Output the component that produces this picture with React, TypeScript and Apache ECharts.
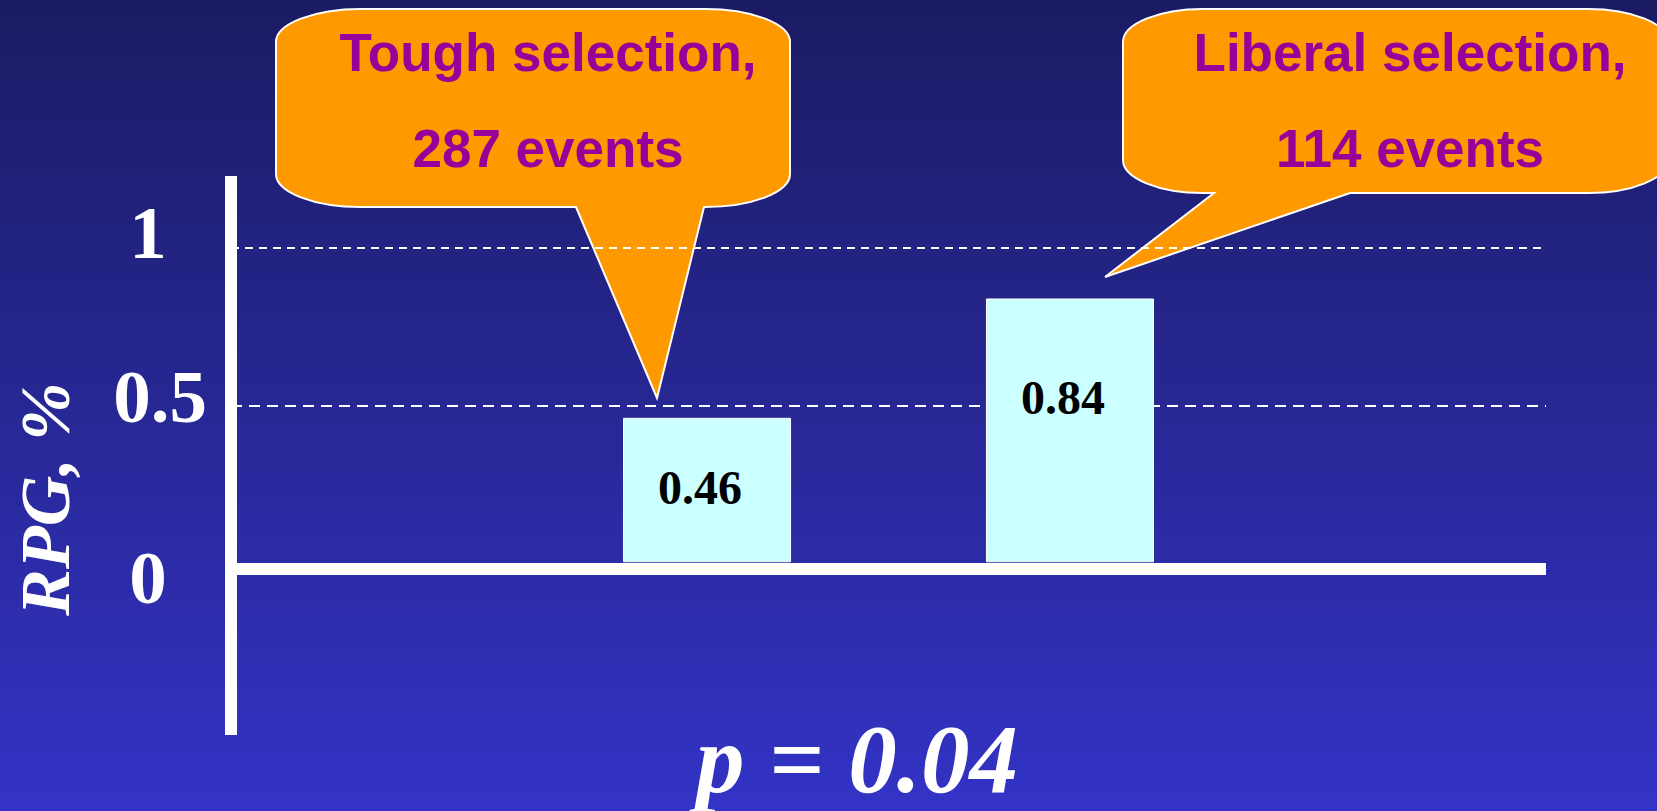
import React, { useEffect, useRef } from "react";
import * as echarts from "echarts";

// ---- data ----
const groups = ["Tough selection", "Liberal selection"];
const eventCounts = [287, 114];
const rpgValues = [0.46, 0.84];
const tickValues = [0, 0.5, 1];
const tickLabels = ["0", "0.5", "1"];
const gridValues = [1, 0.5];
const pValueText = "p = 0.04";
const yTitle = "RPG, %";

// ---- styles / layout ----
const SERIF = '"Liberation Serif", "Times New Roman", serif';
const SANS = '"Liberation Sans", Arial, sans-serif';
const Y_MIN = -0.55;
const Y_MAX = 1.23;
const Y2_MIN = -0.53; // helper axis that puts the drawn baseline slightly below the bars' zero
const Y2_MAX = 1.25;
const tickLabelPad = [
  [31, 0, 0, 0],
  [0, 0, 18, 24],
  [0, 0, 32, 0],
];
const barLabelOffsets = [
  [-7, -3],
  [-7, -33],
];
const gridDash = [
  [8, 6],
  [11, 7],
];

type Callout = {
  L: number; T: number; R: number; B: number; rx: number; ry: number;
  tailA: number; tailB: number; tipX: number; tipY: number; textX: number;
};
const callouts: Callout[] = [
  { L: 276, T: 9, R: 790, B: 207, rx: 85, ry: 33, tailA: 576, tailB: 704, tipX: 657, tipY: 398, textX: 548 },
  { L: 1123, T: 9, R: 1668, B: 193, rx: 80, ry: 33, tailA: 1214, tailB: 1350, tipX: 1105, tipY: 277, textX: 1410 },
];

function calloutPath(c: Callout) {
  const k = 0.5523;
  const { L, T, R, B, rx, ry } = c;
  return [
    `M${L + rx},${T}`,
    `L${R - rx},${T}`,
    `C${R - rx + k * rx},${T} ${R},${T + ry - k * ry} ${R},${T + ry}`,
    `L${R},${B - ry}`,
    `C${R},${B - ry + k * ry} ${R - rx + k * rx},${B} ${R - rx},${B}`,
    `L${c.tailB},${B}`,
    `L${c.tipX},${c.tipY}`,
    `L${c.tailA},${B}`,
    `L${L + rx},${B}`,
    `C${L + rx - k * rx},${B} ${L},${B - ry + k * ry} ${L},${B - ry}`,
    `L${L},${T + ry}`,
    `C${L},${T + ry - k * ry} ${L + rx - k * rx},${T} ${L + rx},${T}`,
    "Z",
  ].join(" ");
}

let registered = false;
function registerShapes() {
  if (registered) return;
  callouts.forEach((c, i) => {
    echarts.graphic.registerShape(
      "callout" + i,
      echarts.graphic.extendPath(calloutPath(c), {}) as any
    );
  });
  registered = true;
}

export default function App() {
  const ref = useRef<HTMLDivElement>(null);

  useEffect(() => {
    if (!ref.current) return;
    registerShapes();
    const chart = echarts.init(ref.current, undefined, { renderer: "svg" });

    const rich: Record<string, any> = {};
    tickLabels.forEach((_, i) => {
      rich["t" + i] = {
        fontFamily: SERIF,
        fontWeight: "bold",
        fontSize: 75,
        lineHeight: 80,
        color: "#ffffff",
        padding: tickLabelPad[i],
      };
    });

    const graphicEls: any[] = [];
    callouts.forEach((c, i) => {
      graphicEls.push({
        type: "callout" + i,
        x: 0,
        y: 0,
        z: 0,
        silent: true,
        style: { fill: "#FF9900", stroke: "#ffffff", lineWidth: 2 },
      });
      graphicEls.push({
        type: "text",
        x: c.textX,
        y: 100,
        z: 10,
        silent: true,
        style: {
          text: `${groups[i]},\n${eventCounts[i]} events`,
          fontFamily: SANS,
          fontWeight: "bold",
          fontSize: 53,
          lineHeight: 96,
          fill: "#990099",
          align: "center",
          verticalAlign: "middle",
        },
      });
    });
    graphicEls.push({
      type: "text",
      x: 45,
      y: 499,
      z: 10,
      rotation: Math.PI / 2,
      silent: true,
      style: {
        text: yTitle,
        fontFamily: SERIF,
        fontWeight: "bold",
        fontStyle: "italic",
        fontSize: 70,
        fill: "#ffffff",
        align: "center",
        verticalAlign: "middle",
      },
    });
    graphicEls.push({
      type: "text",
      x: 857,
      y: 759,
      z: 10,
      silent: true,
      style: {
        text: pValueText,
        fontFamily: SERIF,
        fontWeight: "bold",
        fontStyle: "italic",
        fontSize: 97,
        fill: "#ffffff",
        align: "center",
        verticalAlign: "middle",
      },
    });

    const option: any = {
      animation: false,
      backgroundColor: "transparent",
      grid: {
        left: 231,
        right: 111,
        top: 176,
        bottom: 76,
        containLabel: false,
        outerBoundsMode: "none",
      },
      xAxis: {
        type: "category",
        data: [""],
        axisLine: {
          show: true,
          onZero: true,
          onZeroAxisIndex: 1,
          lineStyle: { color: "#ffffff", width: 12, cap: "butt" },
        },
        axisTick: { show: false },
        axisLabel: { show: false },
        splitLine: { show: false },
      },
      yAxis: [
        {
          type: "value",
          min: Y_MIN,
          max: Y_MAX,
          axisLine: { show: true, lineStyle: { color: "#ffffff", width: 12, cap: "butt" } },
          axisTick: { show: false },
          splitLine: { show: false },
          axisLabel: {
            customValues: tickValues,
            margin: 83,
            align: "center",
            verticalAlign: "middle",
            formatter: (value: number) => {
              const i = tickValues.indexOf(value);
              return i < 0 ? "" : `{t${i}|${tickLabels[i]}}`;
            },
            rich,
          },
        },
        {
          type: "value",
          show: false,
          min: Y2_MIN,
          max: Y2_MAX,
          splitLine: { show: false },
        },
      ],
      series: groups.map((g, i) => ({
        type: "bar",
        name: g,
        data: [rpgValues[i]],
        yAxisIndex: 0,
        barWidth: 168,
        barGap: "116%",
        z: 2,
        silent: true,
        itemStyle: { color: "#CCFFFF", borderColor: "#ffffff", borderWidth: 1 },
        label: {
          show: true,
          position: "inside",
          offset: barLabelOffsets[i],
          formatter: (p: any) => Number(p.value).toFixed(2),
          fontFamily: SERIF,
          fontWeight: "bold",
          fontSize: 48,
          color: "#000000",
        },
        markLine:
          i === 0
            ? {
                silent: true,
                z: 1,
                symbol: "none",
                label: { show: false },
                lineStyle: { color: "#ffffff", width: 2 },
                emphasis: { disabled: true },
                data: gridValues.map((v, j) => ({
                  yAxis: v,
                  lineStyle: { color: "#ffffff", width: 2, type: gridDash[j] },
                })),
              }
            : undefined,
      })),
      graphic: { elements: graphicEls },
    };

    chart.setOption(option);
    return () => {
      chart.dispose();
    };
  }, []);

  return (
    <div
      ref={ref}
      style={{
        position: "fixed",
        left: 0,
        top: 0,
        width: 1657,
        height: 811,
        background: "linear-gradient(to bottom, #1B1B63 0%, #3333C6 100%)",
      }}
    />
  );
}
